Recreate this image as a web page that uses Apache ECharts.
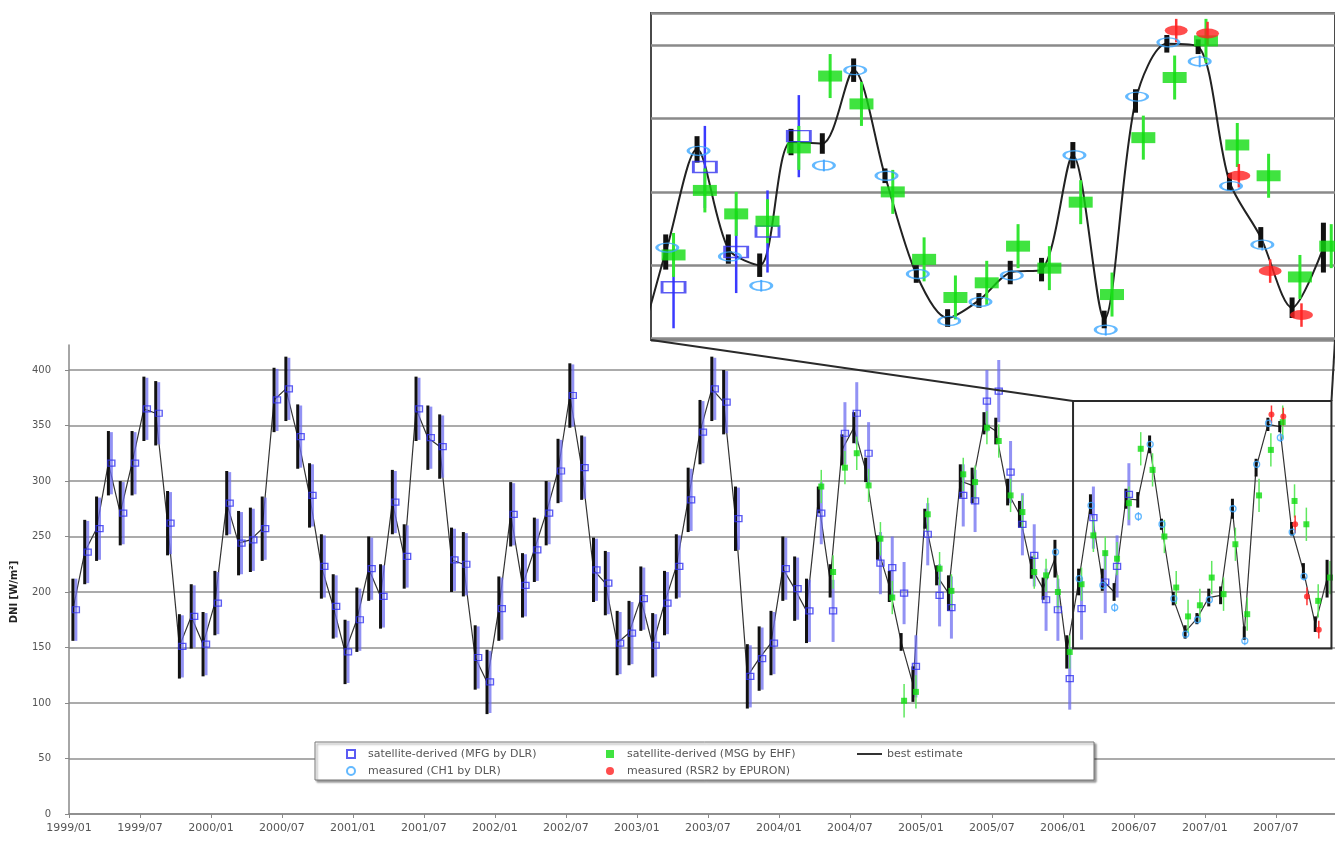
<!DOCTYPE html>
<html>
<head>
<meta charset="utf-8">
<script src="https://cdn.jsdelivr.net/npm/echarts@6.0.0/dist/echarts.min.js"></script>
<style>
html,body{margin:0;padding:0;background:#fff;}
#chart{width:1335px;height:842px;}
</style>
</head>
<body>
<div id="chart"></div>
<script>
// ---------------- data (month index 0 = 1999/01) ----------------
const tickLabels = ['1999/01','1999/07','2000/01','2000/07','2001/01','2001/07','2002/01','2002/07','2003/01','2003/07','2004/01','2004/07','2005/01','2005/07','2006/01','2006/07','2007/01','2007/07'];

// best estimate, monthly from 1999/01
const best = [
  184,236,257,316,271,316,365,361,262,151,
  178,153,190,280,244,247,257,373,383,340,
  287,223,187,146,175,221,196,281,232,365,
  339,331,229,225,141,119,185,270,206,238,
  271,309,377,312,220,208,154,163,194,152,
  190,223,283,344,383,371,266,124,140,154,
  221,203,183,283,210,328,348,310,240,205,
  155,117,266,215,199,300,296,352,345,290,
  270,222,203,230,146,209,279,211,200,284,
  283,333,261,194,164,176,195,197,275,163,
  312,351,349,257,219,171,212
];
// half-length of best-estimate error bars
const bestErr = [
  28,29,29,29,29,29,29,29,29,29,
  29,29,29,29,29,29,29,29,29,29,
  29,29,29,29,29,29,29,29,29,29,
  29,29,29,29,29,29,29,29,29,29,
  29,29,29,29,29,29,29,29,29,29,
  29,29,29,29,29,29,29,29,29,29,
  29,29,29,12,15,14,14,11,11,14,
  8,16,9,9,16,15,16,10,12,12,
  12,10,10,17,15,12,9,10,8,9,
  7,8,5,6,6,5,8,8,9,6,
  8,6,5,6,7,7,17
];
// satellite-derived MFG by DLR, from 1999/01
const mfg = [
  184,236,257,316,271,316,365,361,262,151,
  178,153,190,280,244,247,257,373,383,340,
  287,223,187,146,175,221,196,281,232,365,
  339,331,229,225,141,119,185,270,206,238,
  271,309,377,312,220,208,154,163,194,152,
  190,223,283,344,383,371,266,124,140,154,
  221,203,183,271,183,343,361,325,226,222,
  199,133,252,197,186,287,282,372,381,308,
  261,233,193,184,122,185,267,209,223,288
];
const mfgStart = 0;
const mfgErr = 28;
// satellite-derived MSG by EHF, from 2004/04
const msg = [
  295,218,312,325,296,248,195,102,110,270,
  221,201,306,299,348,336,287,272,218,215,
  200,146,207,251,235,230,280,329,310,250,
  204,178,188,213,198,243,180,287,328,353,
  282,261,192,213
];
const msgStart = 63;
const msgErr = 15;
// measured CH1 by DLR, from 2005/12
const ch1 = [236,null,212,278,206,186,null,268,333,261,194,162,175,193,null,275,156,315,352,339,254,214];
const ch1Start = 83;
const ch1Err = 4;
// measured RSR2 by EPURON, from 2007/06
const rsr2 = [360,358,261,196,166];
const rsr2Start = 101;
const rsr2Err = 8;

// inset (zoomed window) extent
const insetX = [84.86, 106.7];
const insetY = [149, 372];

// ---------------- presentation ----------------
const BEST_OFF = 0.33, PT_OFF = 0.58;
const N_MFG = 'satellite-derived (MFG by DLR)';
const N_MSG = 'satellite-derived (MSG by EHF)';
const N_CH1 = 'measured (CH1 by DLR)';
const N_RSR = 'measured (RSR2 by EPURON)';
const N_BEST = 'best estimate';

function pts(arr, start, off) {
  const out = [];
  arr.forEach((v, i) => { if (v != null) out.push([start + i + off, v]); });
  return out;
}
function errPts(arr, start, off, err) {
  const out = [];
  arr.forEach((v, i) => { if (v != null) out.push([start + i + off, v, Array.isArray(err) ? err[i] : err]); });
  return out;
}
const bestPts = pts(best, 0, BEST_OFF);
const bestErrPts = errPts(best, 0, BEST_OFF, bestErr);
const mfgPts = pts(mfg, mfgStart, PT_OFF);
const mfgErrPts = errPts(mfg, mfgStart, PT_OFF, mfgErr);
const msgPts = pts(msg, msgStart, PT_OFF);
const msgErrPts = errPts(msg, msgStart, PT_OFF, msgErr);
const ch1Pts = pts(ch1, ch1Start, BEST_OFF + 0.05);
const ch1ErrPts = errPts(ch1, ch1Start, BEST_OFF + 0.05, ch1Err);
const rsrPts = pts(rsr2, rsr2Start, PT_OFF + 0.05);
const rsrErrPts = errPts(rsr2, rsr2Start, PT_OFF + 0.05, rsr2Err);

const ST = [
  { lineW: 1.2, lineC: '#333', smooth: false, bestBarW: 3, mfgBarW: 3, mfgBarC: 'rgba(110,110,240,0.75)', msgBarW: 1.5, msgBarC: '#5fe85f',
    ch1BarW: 1, rsrBarW: 1.5, mfgSym: [7, 6], msgSym: [6, 6], ch1Sym: [6, 6], rsrSym: [6, 6], bw: 1.3 },
  { lineW: 2, lineC: '#222', smooth: 0.3, bestBarW: 5, mfgBarW: 2.5, mfgBarC: '#3a3aff', msgBarW: 3, msgBarC: '#33e633',
    ch1BarW: 2, rsrBarW: 2.5, mfgSym: [23, 11], msgSym: [24, 11], ch1Sym: [21, 9], rsrSym: [23, 10], bw: 2 }
];

function errBar(g, data, color, width, z) {
  return {
    type: 'custom', xAxisIndex: g, yAxisIndex: g, data, clip: true, silent: true, z,
    encode: { x: 0, y: 1 },
    renderItem(params, api) {
      const x = api.value(0), v = api.value(1), e = api.value(2);
      const p1 = api.coord([x, v + e]), p2 = api.coord([x, v - e]);
      return { type: 'line', shape: { x1: p1[0], y1: p1[1], x2: p2[0], y2: p2[1] },
               style: { stroke: color, lineWidth: width } };
    }
  };
}

function makeSeries(g) {
  const s = ST[g];
  const ax = { xAxisIndex: g, yAxisIndex: g, silent: true, clip: true, emphasis: { disabled: true } };
  return [
    Object.assign({ type: 'line', name: N_BEST, data: bestPts, symbol: 'none', smooth: s.smooth,
      lineStyle: { color: s.lineC, width: s.lineW }, itemStyle: { color: s.lineC }, z: 2 }, ax),
    errBar(g, mfgErrPts, s.mfgBarC, s.mfgBarW, 3),
    errBar(g, msgErrPts, s.msgBarC, s.msgBarW, 3),
    errBar(g, ch1ErrPts, '#55aaff', s.ch1BarW, 3),
    errBar(g, rsrErrPts, '#ff3333', s.rsrBarW, 3),
    errBar(g, bestErrPts, '#111', s.bestBarW, 4),
    Object.assign({ type: 'scatter', name: N_MFG, data: mfgPts, symbol: 'rect', symbolSize: s.mfgSym,
      itemStyle: { color: 'rgba(255,255,255,0)', borderColor: '#3232f0', borderWidth: s.bw }, z: 5 }, ax),
    Object.assign({ type: 'scatter', name: N_MSG, data: msgPts, symbol: 'rect', symbolSize: s.msgSym,
      itemStyle: { color: '#10dc10' }, z: 5 }, ax),
    Object.assign({ type: 'scatter', name: N_CH1, data: ch1Pts, symbol: 'circle', symbolSize: s.ch1Sym,
      itemStyle: { color: 'rgba(255,255,255,0)', borderColor: '#3ca8ff', borderWidth: s.bw }, z: 5 }, ax),
    Object.assign({ type: 'scatter', name: N_RSR, data: rsrPts, symbol: 'circle', symbolSize: s.rsrSym,
      itemStyle: { color: '#ff2020' }, z: 6 }, ax)
  ];
}

const legendText = { fontFamily: 'DejaVu Sans', fontSize: 11, color: '#555', lineHeight: 12 };

const option = {
  animation: false,
  backgroundColor: '#fff',
  grid: [
    { left: 69, top: 345, width: 1266, height: 469, show: false },
    { left: 651, top: 13, width: 684, height: 327, show: true, backgroundColor: '#fff', borderColor: '#4a4a4a', borderWidth: 2 }
  ],
  xAxis: [
    { gridIndex: 0, type: 'value', min: 0, max: 107, interval: 6,
      axisLine: { lineStyle: { color: '#888', width: 1.5 } },
      axisTick: { length: 4, lineStyle: { color: '#888' } },
      axisLabel: { formatter: v => (v % 6 === 0 && tickLabels[v / 6]) ? tickLabels[v / 6] : '',
                   color: '#555', fontSize: 11, fontFamily: 'DejaVu Sans', margin: 9, showMaxLabel: false },
      splitLine: { show: false } },
    { gridIndex: 1, type: 'value', min: insetX[0], max: insetX[1], show: false, splitLine: { show: false } }
  ],
  yAxis: [
    { gridIndex: 0, type: 'value', min: 0, max: 422.5, interval: 50,
      axisLine: { show: true, lineStyle: { color: '#888', width: 1.5 } },
      axisTick: { show: true, length: 4, lineStyle: { color: '#888' } },
      axisLabel: { showMaxLabel: false, color: '#555', fontSize: 10, fontFamily: 'DejaVu Sans', margin: 18 },
      splitLine: { show: true, showMaxLine: false, lineStyle: { color: '#8f8f8f', width: 1.5 } } },
    { gridIndex: 1, type: 'value', min: insetY[0], max: insetY[1],
      axisLine: { show: false }, axisTick: { show: false }, axisLabel: { show: false },
      splitLine: { show: true, lineStyle: { color: '#8a8a8a', width: 2.5 } } }
  ],
  legend: [
    { left: 341, top: 743, orient: 'vertical', itemWidth: 8, itemHeight: 8, itemGap: 5, selectedMode: false, z: 6,
      data: [{ name: N_MFG, icon: 'rect' }, { name: N_CH1, icon: 'circle' }],
      textStyle: Object.assign({ padding: [0, 0, 0, 8] }, legendText) },
    { left: 601, top: 743, orient: 'vertical', itemWidth: 8, itemHeight: 8, itemGap: 5, selectedMode: false, z: 6,
      data: [{ name: N_MSG, icon: 'rect' }, { name: N_RSR, icon: 'circle' }],
      textStyle: Object.assign({ padding: [0, 0, 0, 8] }, legendText) },
    { left: 852, top: 743, orient: 'vertical', itemWidth: 25, itemHeight: 2, itemGap: 5, selectedMode: false, z: 6,
      data: [{ name: N_BEST, icon: 'rect', itemStyle: { color: '#333' } }], textStyle: legendText }
  ],
  series: makeSeries(0).concat(makeSeries(1))
};

const chart = echarts.init(document.getElementById('chart'), null, { renderer: 'canvas' });
chart.setOption(option);

const tl = chart.convertToPixel({ gridIndex: 0 }, [insetX[0], insetY[1]]);
const br = chart.convertToPixel({ gridIndex: 0 }, [insetX[1], insetY[0]]);
const ibl = chart.convertToPixel({ gridIndex: 1 }, [insetX[0], insetY[0]]);
const ibr = chart.convertToPixel({ gridIndex: 1 }, [insetX[1], insetY[0]]);

chart.setOption({
  graphic: [
    { type: 'rect', id: 'legendBox', z: 3, shape: { x: 315, y: 742, width: 779, height: 38 },
      style: { fill: '#fff', stroke: '#777', lineWidth: 1, shadowBlur: 2, shadowOffsetX: 2, shadowOffsetY: 2, shadowColor: 'rgba(0,0,0,0.4)' } },
    { type: 'text', id: 'yname', z: 3, x: 14, y: 592, rotation: Math.PI / 2,
      style: { text: 'DNI [W/m²]', font: 'bold 10px "DejaVu Sans"', fill: '#222',
               align: 'center', verticalAlign: 'middle', textAlign: 'center', textVerticalAlign: 'middle' } },
    { type: 'rect', id: 'zoomRect', z: 7, shape: { x: tl[0], y: tl[1], width: br[0] - tl[0], height: br[1] - tl[1] },
      style: { fill: 'none', stroke: '#2a2a2a', lineWidth: 2 } },
    { type: 'line', id: 'conL', z: 7, shape: { x1: ibl[0], y1: ibl[1], x2: tl[0], y2: tl[1] },
      style: { stroke: '#2a2a2a', lineWidth: 2 } },
    { type: 'line', id: 'conR', z: 7, shape: { x1: ibr[0], y1: ibr[1], x2: br[0], y2: tl[1] },
      style: { stroke: '#2a2a2a', lineWidth: 2 } }
  ]
});
</script>
</body>
</html>
